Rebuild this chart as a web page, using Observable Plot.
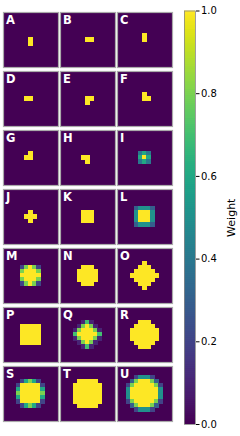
<!DOCTYPE html>
<html>
<head>
<meta charset="utf-8">
<script src="https://cdn.jsdelivr.net/npm/d3@7"></script>
<script src="https://cdn.jsdelivr.net/npm/@observablehq/plot@0.6"></script>
<style>
  html, body { margin: 0; padding: 0; background: #fff; }
  #wrap { position: relative; width: 240px; height: 436px; overflow: hidden; font-family: "DejaVu Sans", sans-serif; }
  #grid { position: absolute; left: 0; top: 0; }
  #cbar { position: absolute; left: 183px; top: 0; }
</style>
</head>
<body>
<div id="wrap"><div id="grid"></div><div id="cbar"></div></div>
<script>
// Panel letters (reading order, 3 per row)
const letters = ["A","B","C","D","E","F","G","H","I","J","K","L","M","N","O","P","Q","R","S","T","U"];
// Each kernel: central 9x9 window of a 13x13 grid. '.'=0, '1'..'9' = 0.1..0.9, 'X' = 1.0
const kA = [".........",".........",".........",".........","....X....","....X....",".........",".........","........."];
const kB = [".........",".........",".........",".........","....XX...",".........",".........",".........","........."];
const kC = [".........",".........",".........","....X....","....X....",".........",".........",".........","........."];
const kD = [".........",".........",".........",".........","...XX....",".........",".........",".........","........."];
const kE = [".........",".........",".........",".........","....XX...","....X....",".........",".........","........."];
const kF = [".........",".........",".........","....X....","....XX...",".........",".........",".........","........."];
const kG = [".........",".........",".........","....X....","...XX....",".........",".........",".........","........."];
const kH = [".........",".........",".........",".........","...XX....","....X....",".........",".........","........."];
const kI = [".........",".........",".........","...464...","...6X6...","...464...",".........",".........","........."];
const kJ = [".........",".........",".........","....X....","...XXX...","....X....",".........",".........","........."];
const kK = [".........",".........",".........","...XXX...","...XXX...","...XXX...",".........",".........","........."];
const kL = [".........",".........","..35553..","..5XXX5..","..5XXX5..","..5XXX5..","..35553..",".........","........."];
const kM = [".........",".........","..28X82..","..8XXX8..","..XXXXX..","..8XXX8..","..28X82..",".........","........."];
const kN = [".........",".........","...XXX...","..XXXXX..","..XXXXX..","..XXXXX..","...XXX...",".........","........."];
const kO = [".........","....X....","...XXX...","..XXXXX..",".XXXXXXX.","..XXXXX..","...XXX...","....X....","........."];
const kP = [".........",".........","..XXXXX..","..XXXXX..","..XXXXX..","..XXXXX..","..XXXXX..",".........","........."];
const kQ = [".........","...171...","..18X81..",".18XXX81.",".7XXXXX7.",".18XXX81.","..18X81..","...171...","........."];
const kR = [".........","...XXX...","..XXXXX..",".XXXXXXX.",".XXXXXXX.",".XXXXXXX.","..XXXXX..","...XXX...","........."];
const kS = [".........","..26862..",".2XXXXX2.",".6XXXXX6.",".8XXXXX8.",".6XXXXX6.",".2XXXXX2.","..26862..","........."];
const kT = [".........","..XXXXX..",".XXXXXXX.",".XXXXXXX.",".XXXXXXX.",".XXXXXXX.",".XXXXXXX.","..XXXXX..","........."];
const kU = ["..25552..",".38XXX83.","28XXXXX82","5XXXXXXX5","5XXXXXXX5","5XXXXXXX5","28XXXXX82",".38XXX83.","..25552.."];
const kernels = [kA,kB,kC,kD,kE,kF,kG,kH,kI,kJ,kK,kL,kM,kN,kO,kP,kQ,kR,kS,kT,kU];
// Colorbar ticks
const cbTicks = [0, 0.2, 0.4, 0.6, 0.8, 1.0];
const cbLabel = "Weight";

const gridN = 13, offset = 2;
const cells = [];
kernels.forEach((k, i) => {
  k.forEach((row, r) => {
    [...row].forEach((ch, c) => {
      if (ch === ".") return;
      const v = ch === "X" ? 1 : +ch / 10;
      cells.push({fx: i % 3, fy: Math.floor(i / 3), x: c + offset, y: r + offset, v});
    });
  });
});
const labels = letters.map((t, i) => ({fx: i % 3, fy: Math.floor(i / 3), t}));

const grid = Plot.plot({
  width: 176, height: 436,
  marginTop: 10.5, marginBottom: 14, marginLeft: 2.5, marginRight: 2.5,
  style: {fontFamily: "DejaVu Sans", background: "transparent"},
  fx: {domain: [0,1,2], axis: null, paddingInner: 0.035, paddingOuter: 0},
  fy: {domain: [0,1,2,3,4,5,6], axis: null, paddingInner: 0.074, paddingOuter: 0},
  x: {type: "band", domain: d3.range(gridN), axis: null, padding: 0},
  y: {type: "band", domain: d3.range(gridN), axis: null, padding: 0},
  color: {type: "linear", scheme: "viridis", domain: [0, 1]},
  marks: [
    Plot.frame({fill: "#440154"}),
    Plot.cell(cells, {x: "x", y: "y", fx: "fx", fy: "fy", fill: "v", stroke: "v", strokeWidth: 1}),
    Plot.frame({stroke: "#aaaaaa", strokeWidth: 1.2}),
    Plot.text(labels, {fx: "fx", fy: "fy", text: "t", frameAnchor: "top-left", dx: 2.4, dy: 3.8,
      fill: "white", fontWeight: "bold", fontSize: 11.5})
  ]
});
document.getElementById("grid").appendChild(grid);

const stops = d3.range(0, 1, 1 / 200);
const cbar = Plot.plot({
  width: 57, height: 436,
  marginTop: 10.5, marginBottom: 12, marginLeft: 1, marginRight: 45,
  style: {fontFamily: "DejaVu Sans", fontSize: "10px", background: "transparent"},
  x: {domain: [0, 1], axis: null},
  y: {domain: [0, 1]},
  color: {type: "linear", scheme: "viridis", domain: [0, 1]},
  marks: [
    Plot.rect(stops, {x1: 0, x2: 1, y1: d => d, y2: d => Math.min(1, d + 1.6 / 200), fill: d => d + 0.5 / 200}),
    Plot.frame({stroke: "#888888", strokeWidth: 0.8}),
    Plot.axisY(cbTicks, {anchor: "right", tickFormat: ".1f", tickSize: 3.5, tickPadding: 2, fontSize: 10, label: null}),
    Plot.text([cbLabel], {frameAnchor: "right", dx: 36, rotate: -90, textAnchor: "middle", lineAnchor: "middle", fontSize: 11, fill: "black"})
  ]
});
document.getElementById("cbar").appendChild(cbar);
</script>
</body>
</html>
